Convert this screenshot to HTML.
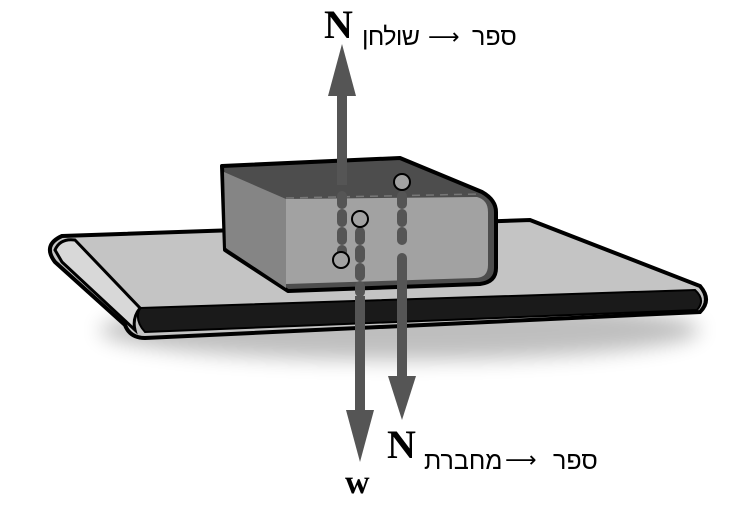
<!DOCTYPE html>
<html><head><meta charset="utf-8"><style>body{margin:0;background:#fff}svg{display:block}</style></head><body>
<svg width="754" height="509" viewBox="0 0 754 509" xmlns="http://www.w3.org/2000/svg">
<defs>
<filter id="sh" x="-20%" y="-20%" width="140%" height="160%"><feGaussianBlur stdDeviation="10"/></filter>
</defs>
<ellipse cx="400" cy="330" rx="300" ry="30" fill="#000" opacity="0.25" filter="url(#sh)"/>
<path d="M62,236 L530,220 L700,286 Q712,300 700,312 L145,338 Q130,338 125,325 L55,262 Q42,245 62,236 Z" fill="#c4c4c4" stroke="#000" stroke-width="4"/>
<path d="M140,308 L695,290 Q706,300 697,310 L145,332 Q134,320 140,308 Z" fill="#1a1a1a" stroke="#000" stroke-width="2"/>
<path d="M55,250 Q60,238 75,240 L140,308 Q132,318 135,330 L62,262 Z" fill="#d8d8d8" stroke="#000" stroke-width="3"/>
<path d="M222,166 L400,158 L482,192 Q496,200 496,212 L496,268 Q496,282 480,284 L288,291 L225,250 Z" fill="#4d4d4d" stroke="#000" stroke-width="4" stroke-linejoin="round"/>
<path d="M224,172 L286,199 L286,288 L226,248 Z" fill="#858585"/>
<path d="M286,199 L477,197 Q488,200 488,212 L488,265 Q488,278 475,278 L286,284 Z" fill="#a2a2a2"/>
<line x1="286" y1="198" x2="480" y2="194" stroke="#777" stroke-width="1.5" stroke-dasharray="8 6"/>
<line x1="342" y1="95" x2="342" y2="185" stroke="#555" stroke-width="10"/>
<polygon points="342,44 328,96 356,96" fill="#555"/>
<line x1="342" y1="196" x2="342" y2="262" stroke="#555" stroke-width="10" stroke-dasharray="8 10" stroke-linecap="round"/>
<line x1="360" y1="232" x2="360" y2="292" stroke="#555" stroke-width="10" stroke-dasharray="8 10" stroke-linecap="round"/>
<line x1="360" y1="296" x2="360" y2="412" stroke="#555" stroke-width="10"/>
<polygon points="360,462 346,410 374,410" fill="#555"/>
<line x1="402" y1="196" x2="402" y2="240" stroke="#555" stroke-width="10" stroke-dasharray="8 10" stroke-linecap="round"/>
<line x1="402" y1="258" x2="402" y2="378" stroke="#555" stroke-width="10" stroke-linecap="round"/>
<polygon points="402,420 388,376 416,376" fill="#555"/>
<circle cx="402" cy="182" r="8" fill="#a2a2a2" stroke="#000" stroke-width="2"/>
<circle cx="360" cy="219" r="8" fill="#a2a2a2" stroke="#000" stroke-width="2"/>
<circle cx="341" cy="260" r="8" fill="#a2a2a2" stroke="#000" stroke-width="2"/>
<g font-family="Liberation Sans, DejaVu Sans, sans-serif" fill="#000">
<text x="324" y="38" font-family="Liberation Serif, serif" font-weight="bold" font-size="40">N</text>
<text x="362" y="45" font-size="25" textLength="58">שולחן</text>
<text x="428" y="44" font-size="22">⟶</text>
<text x="472" y="45" font-size="25">ספר</text>
<text x="387" y="458" font-family="Liberation Serif, serif" font-weight="bold" font-size="40">N</text>
<text x="424" y="469" font-size="25">מחברת</text>
<text x="505" y="467" font-size="22">⟶</text>
<text x="553" y="469" font-size="25">ספר</text>
<text x="345" y="493" font-family="Liberation Serif, serif" font-weight="bold" font-size="34">w</text>
</g>
</svg>
</body></html>
